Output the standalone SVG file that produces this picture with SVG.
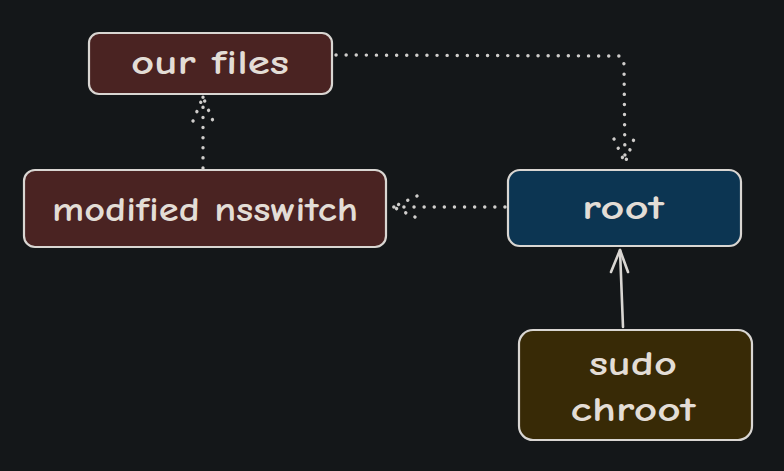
<svg xmlns="http://www.w3.org/2000/svg" width="784" height="471" viewBox="0 0 784 471">
<style>
.box{stroke:#d9d6d2;stroke-width:2.2}
.lbl{font-family:"Comic Neue","Open Sans","Liberation Sans",sans-serif;font-size:35px;font-weight:700;fill:#e3ddd6;text-anchor:middle}
.dot{fill:none;stroke:#cfcdcb;stroke-width:3.4;stroke-linecap:round;stroke-dasharray:0.1 10;stroke-linejoin:round}
.solid{fill:none;stroke:#d9d6d2;stroke-width:2.6;stroke-linecap:round;stroke-linejoin:round}
</style>
<rect width="784" height="471" fill="#141719"/>
<g id="connectors">
  <path class="dot" d="M336 55 L619 56 Q624 57 624 66 L625 163"/>
  <path class="dot" d="M614 139 L625 163 L634 139"/>
  <path class="dot" d="M505 207 L393 207"/>
  <path class="dot" d="M417 196 L393 207 L417 218"/>
  <path class="dot" d="M203 168 L203 97"/>
  <path class="dot" d="M193 121 L203 97 L213 121"/>
  <path class="solid" d="M623 327 L620 250"/>
  <path class="solid" d="M611 272 L620 250 L628 272"/>
</g>
<g id="our-files">
  <rect class="box" x="89" y="33" width="243" height="61" rx="10" fill="#4a2322"/>
  <text class="lbl" x="210" y="74" textLength="158" lengthAdjust="spacingAndGlyphs">our files</text>
</g>
<g id="modified-nsswitch">
  <rect class="box" x="24" y="170" width="362" height="77" rx="11" fill="#4a2322"/>
  <text class="lbl" x="205" y="221" textLength="306" lengthAdjust="spacingAndGlyphs">modified nsswitch</text>
</g>
<g id="root">
  <rect class="box" x="508" y="170" width="233" height="76" rx="12" fill="#0c3552"/>
  <text class="lbl" x="623" y="219" fill="#c9d6df" textLength="82" lengthAdjust="spacingAndGlyphs">root</text>
</g>
<g id="sudo-chroot">
  <rect class="box" x="519" y="330" width="233" height="110" rx="14" fill="#382a06"/>
  <text class="lbl" x="633" y="375" textLength="88" lengthAdjust="spacingAndGlyphs">sudo</text>
  <text class="lbl" x="633" y="421" textLength="125" lengthAdjust="spacingAndGlyphs">chroot</text>
</g>
</svg>
